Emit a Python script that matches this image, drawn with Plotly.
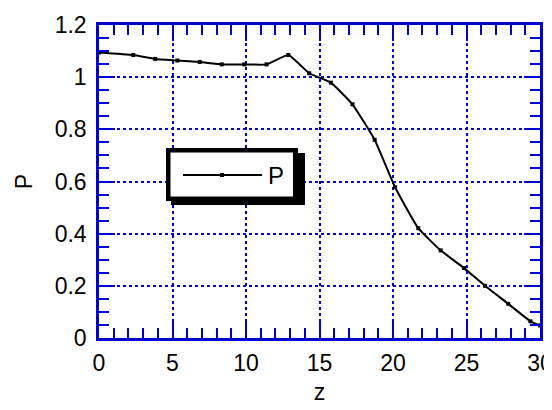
import plotly.graph_objects as go

# Data
z = [0, 2.33, 3.82, 5.33, 6.85, 8.35, 9.88, 11.4, 12.88, 14.3, 15.77, 17.24, 18.75,
     20.14, 21.72, 23.24, 24.83, 26.26, 27.84, 29.35, 30]
P = [1.095, 1.085, 1.070, 1.064, 1.058, 1.049, 1.049, 1.049, 1.085, 1.015, 0.979,
     0.896, 0.760, 0.578, 0.421, 0.336, 0.268, 0.200, 0.131, 0.064, 0.048]
x_ticks = [0, 5, 10, 15, 20, 25, 30]
y_ticks = [0, 0.2, 0.4, 0.6, 0.8, 1, 1.2]

# The page body has an 8px margin, so the figure is drawn 8px right/down.
OFF = 8
W, H = 552 - OFF, 410 - OFF
PL, PR, PT, PB = 99, 540, 25, 338  # plot area in screen pixels
BLUE = "#0000D0"
FONT = "Liberation Sans, Arial, sans-serif"

def px(x):
    return (x - PL) / (PR - PL)

def py(y):
    return (PB - y) / (PB - PT)

fig = go.Figure()
fig.add_trace(go.Scatter(
    x=z, y=P, mode="lines+markers", name="P",
    line=dict(color="black", width=2, shape="spline", smoothing=0.4),
    marker=dict(symbol="square", size=4, color="black"),
    showlegend=False,
))

axis_common = dict(
    showline=True, linecolor=BLUE, linewidth=2.5, mirror="allticks",
    ticks="inside", ticklen=16, tickwidth=2, tickcolor=BLUE,
    showgrid=True, gridcolor=BLUE, griddash="dot", gridwidth=1.5,
    zeroline=False, automargin=False, ticklabeloverflow="allow",
    tickfont=dict(family=FONT, size=23, color="black"),
)

fig.update_xaxes(
    range=[0, 30], tickvals=x_ticks, **axis_common,
    minor=dict(dtick=1, ticks="inside", ticklen=10, tickwidth=2, tickcolor=BLUE, showgrid=False),
    title=dict(text="z", font=dict(family=FONT, size=23, color="black"), standoff=9),
    ticklabelstandoff=3,
)
fig.update_yaxes(
    range=[0, 1.2], tickvals=y_ticks, **axis_common,
    minor=dict(dtick=0.05, ticks="inside", ticklen=10, tickwidth=2, tickcolor=BLUE, showgrid=False),
    title=dict(text="P", font=dict(family=FONT, size=23, color="black"), standoff=16),
    ticklabelstandoff=5,
)

# Legend box drawn manually (framed box with drop shadow)
shapes = [
    dict(type="rect", xref="paper", yref="paper", layer="above",
         x0=px(171), x1=px(305), y0=py(205), y1=py(153),
         fillcolor="black", line=dict(width=0)),
    dict(type="rect", xref="paper", yref="paper", layer="above",
         x0=px(166), x1=px(298), y0=py(201), y1=py(148),
         fillcolor="black", line=dict(width=0)),
    dict(type="rect", xref="paper", yref="paper", layer="above",
         x0=px(170.5), x1=px(293), y0=py(196.5), y1=py(152.5),
         fillcolor="white", line=dict(width=0)),
    dict(type="line", xref="paper", yref="paper", layer="above",
         x0=px(183), x1=px(262), y0=py(175), y1=py(175),
         line=dict(color="black", width=2)),
    dict(type="rect", xref="paper", yref="paper", layer="above",
         x0=px(220), x1=px(224), y0=py(177), y1=py(173),
         fillcolor="black", line=dict(width=0)),
]
fig.update_layout(
    shapes=shapes,
    annotations=[dict(text="P", xref="paper", yref="paper", x=px(266), y=py(175),
                      xanchor="left", yanchor="middle", showarrow=False,
                      font=dict(family=FONT, size=24, color="black"))],
    width=W, height=H,
    margin=dict(l=PL - OFF, r=552 - PR, t=PT - OFF, b=410 - PB),
    paper_bgcolor="white", plot_bgcolor="white",
    showlegend=False,
)

fig.write_html("out.html")
